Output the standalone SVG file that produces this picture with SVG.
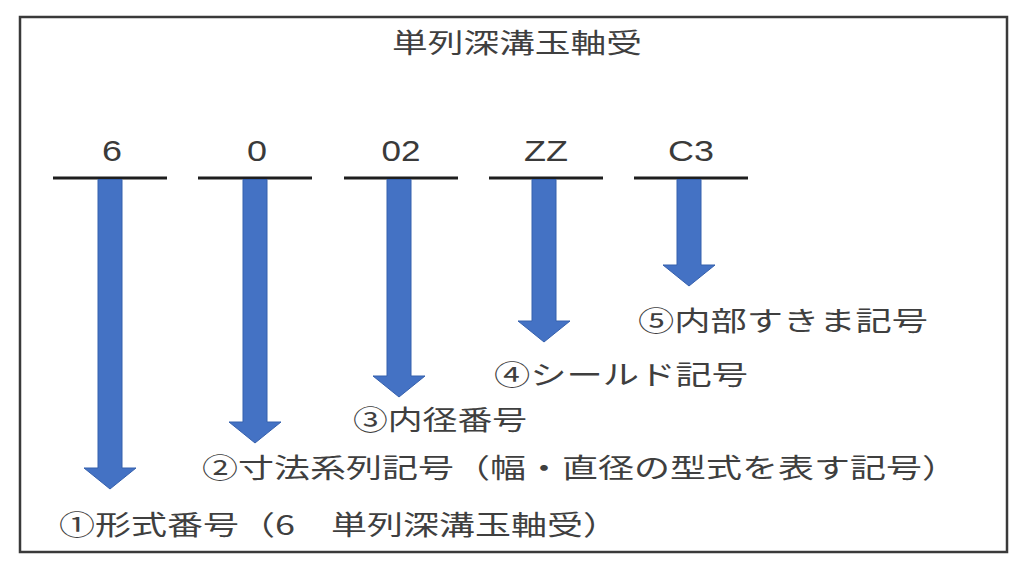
<svg xmlns="http://www.w3.org/2000/svg" width="1024" height="576" viewBox="0 0 1024 576">
  <style>
    .frame { fill: #ffffff; stroke: #3a3a3a; stroke-width: 2.5; }
    .bar { stroke: #1e1e1e; stroke-width: 3; }
    .num { font-family: "Liberation Sans", Arial, sans-serif; font-size: 30px; fill: #3a3a3a; text-anchor: middle; }
    .jp { font-family: "Noto Sans CJK JP", "Noto Sans", sans-serif; font-size: 27px; fill: #3f3f3f; }
    .arrow { fill: #4472c4; stroke: #3560ad; stroke-width: 1; }
  </style>
  <defs>
    <path id="arrowhead" d="M -26 0 L 26 0 L 0 21 Z"/>
  </defs>
  <rect class="frame" x="20" y="17" width="987" height="535"/>

  <g id="title">
    <text class="jp" x="392" y="53" font-size="26" textLength="250" lengthAdjust="spacingAndGlyphs">単列深溝玉軸受</text>
  </g>

  <g id="code-6">
    <text class="num" x="112" y="161" textLength="20" lengthAdjust="spacingAndGlyphs">6</text>
    <line class="bar" x1="53" y1="178" x2="167" y2="178"/>
  </g>
  <g id="code-0">
    <text class="num" x="257" y="161" textLength="20" lengthAdjust="spacingAndGlyphs">0</text>
    <line class="bar" x1="198" y1="178" x2="312" y2="178"/>
  </g>
  <g id="code-02">
    <text class="num" x="401" y="161" textLength="39" lengthAdjust="spacingAndGlyphs">02</text>
    <line class="bar" x1="344" y1="178" x2="458" y2="178"/>
  </g>
  <g id="code-ZZ">
    <text class="num" x="546" y="161" textLength="44" lengthAdjust="spacingAndGlyphs">ZZ</text>
    <line class="bar" x1="489" y1="178" x2="603" y2="178"/>
  </g>
  <g id="code-C3">
    <text class="num" x="691" y="161" textLength="46" lengthAdjust="spacingAndGlyphs">C3</text>
    <line class="bar" x1="634" y1="178" x2="748" y2="178"/>
  </g>

  <g id="connectors">
    <path class="arrow" d="M 98 179.5 L 122 179.5 L 122 468 L 136 468 L 110 489 L 84 468 L 98 468 Z"/>
    <path class="arrow" d="M 243 179.5 L 267 179.5 L 267 422 L 281 422 L 255 443 L 229 422 L 243 422 Z"/>
    <path class="arrow" d="M 387 179.5 L 411 179.5 L 411 376 L 425 376 L 399 397 L 373 376 L 387 376 Z"/>
    <path class="arrow" d="M 532 179.5 L 556 179.5 L 556 321 L 570 321 L 544 342 L 518 321 L 532 321 Z"/>
    <path class="arrow" d="M 677 179.5 L 701 179.5 L 701 265 L 715 265 L 689 286 L 663 265 L 677 265 Z"/>
  </g>

  <g id="label-5">
    <text class="jp" x="638" y="331" textLength="290" lengthAdjust="spacingAndGlyphs">⑤内部すきま記号</text>
  </g>
  <g id="label-4">
    <text class="jp" x="494" y="385" textLength="254" lengthAdjust="spacingAndGlyphs">④シールド記号</text>
  </g>
  <g id="label-3">
    <text class="jp" x="353" y="430" textLength="174" lengthAdjust="spacingAndGlyphs">③内径番号</text>
  </g>
  <g id="label-2">
    <text class="jp" x="202" y="478" textLength="756" lengthAdjust="spacingAndGlyphs">②寸法系列記号（幅・直径の型式を表す記号）</text>
  </g>
  <g id="label-1">
    <text class="jp" x="59" y="535" textLength="560" lengthAdjust="spacingAndGlyphs">①形式番号（6　単列深溝玉軸受）</text>
  </g>
</svg>
